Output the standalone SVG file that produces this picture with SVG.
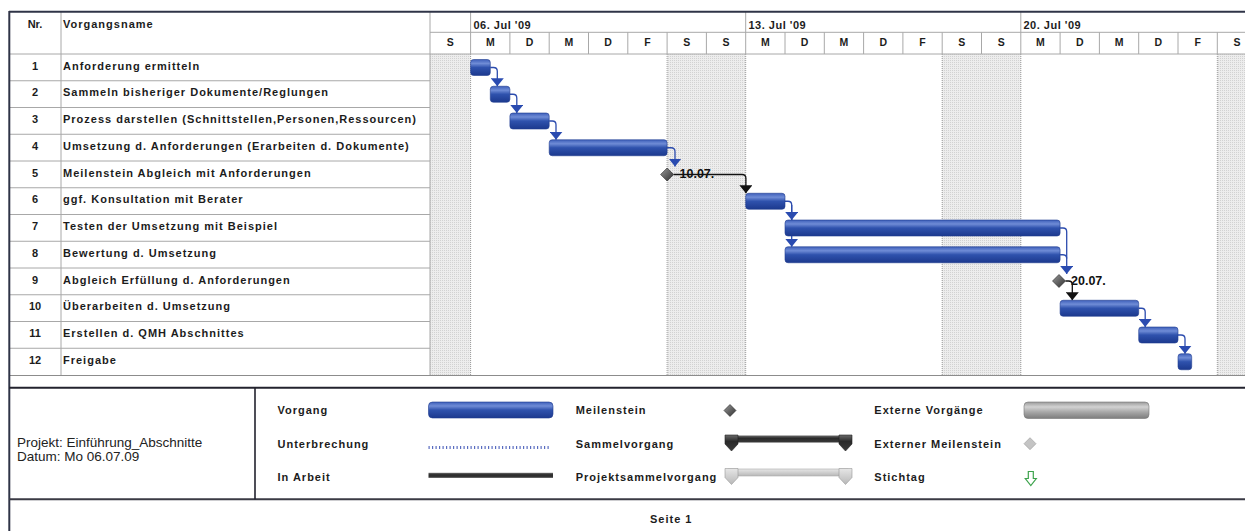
<svg xmlns="http://www.w3.org/2000/svg" width="1245" height="531" viewBox="0 0 1245 531">
<style>
.t{font-family:"Liberation Sans",Arial,sans-serif;font-size:11px;font-weight:bold;fill:#1c1c1c;letter-spacing:1px}
.n{font-family:"Liberation Sans",Arial,sans-serif;font-size:11px;font-weight:bold;fill:#1c1c1c;text-anchor:middle}
.d{font-family:"Liberation Sans",Arial,sans-serif;font-size:10.5px;font-weight:bold;fill:#1c1c1c;text-anchor:middle}
.w{font-family:"Liberation Sans",Arial,sans-serif;font-size:11px;font-weight:bold;fill:#1c1c1c;letter-spacing:0.5px}
.ml{font-family:"Liberation Sans",Arial,sans-serif;font-size:12.5px;font-weight:bold;fill:#111}
.p{font-family:"Liberation Sans",Arial,sans-serif;font-size:13.5px;fill:#222}
.g{stroke:#a8a8a8;stroke-width:1;fill:none}
.dot{stroke:#9a9a9a;stroke-width:1;stroke-dasharray:1 1;fill:none}
.bar{fill:url(#blue);stroke:#203c90;stroke-width:0.6}
.ms{fill:url(#dia);stroke:#222;stroke-width:0.6}
.lb{fill:none;stroke:#2c4cae;stroke-width:1.3}
.lk{fill:none;stroke:#111;stroke-width:1.3}
</style>
<defs>
<linearGradient id="blue" x1="0" y1="0" x2="0" y2="1">
<stop offset="0" stop-color="#3e5fba"/><stop offset="0.25" stop-color="#6f8cd6"/><stop offset="0.5" stop-color="#2f52ad"/><stop offset="1" stop-color="#1c398e"/>
</linearGradient>
<linearGradient id="dia" x1="0" y1="0" x2="1" y2="1">
<stop offset="0" stop-color="#9a9a9a"/><stop offset="1" stop-color="#2e2e2e"/>
</linearGradient>
<linearGradient id="dark" x1="0" y1="0" x2="0" y2="1">
<stop offset="0" stop-color="#6a6a6a"/><stop offset="0.4" stop-color="#2a2a2a"/><stop offset="1" stop-color="#3a3a3a"/>
</linearGradient>
<linearGradient id="light" x1="0" y1="0" x2="0" y2="1">
<stop offset="0" stop-color="#e6e6e6"/><stop offset="1" stop-color="#b8b8b8"/>
</linearGradient>
<linearGradient id="grey" x1="0" y1="0" x2="0" y2="1">
<stop offset="0" stop-color="#9a9a9a"/><stop offset="0.3" stop-color="#d2d2d2"/><stop offset="0.6" stop-color="#a8a8a8"/><stop offset="1" stop-color="#7c7c7c"/>
</linearGradient>
<pattern id="wk" width="2" height="2" patternUnits="userSpaceOnUse">
<rect width="2" height="2" fill="#ededed"/><rect width="1" height="1" fill="#d2d2d2"/>
</pattern>
<marker id="ab" markerUnits="userSpaceOnUse" markerWidth="8" markerHeight="13" viewBox="0 0 8 13" refX="8" refY="6.5" orient="auto">
<path d="M0,0 L8,6.5 L0,13 z" fill="#2a4bb0"/>
</marker>
<marker id="ak" markerUnits="userSpaceOnUse" markerWidth="8" markerHeight="13" viewBox="0 0 8 13" refX="8" refY="6.5" orient="auto">
<path d="M0,0 L8,6.5 L0,13 z" fill="#111"/>
</marker>
</defs>

<rect width="1245" height="531" fill="#fff"/>

<g id="weekends">
<rect x="430" y="54" width="40.6" height="321" fill="url(#wk)"/>
<rect x="667.1" y="54" width="78.6" height="321" fill="url(#wk)"/>
<rect x="942.2" y="54" width="78.6" height="321" fill="url(#wk)"/>
<rect x="1217.3" y="54" width="27.7" height="321" fill="url(#wk)"/>
<path class="dot" d="M470.6,54V375M667.1,54V375M745.7,54V375M942.2,54V375M1020.8,54V375M1217.3,54V375"/>
</g>

<g id="grid">
<path class="g" d="M61,11V375M430,11V375M9,54H1245M430,32.3H1245"/>
<path class="g" d="M9,80.75H430M9,107.5H430M9,134.25H430M9,161H430M9,187.75H430M9,214.5H430M9,241.25H430M9,268H430M9,294.75H430M9,321.5H430M9,348.25H430"/>
<path class="g" d="M470.6,11V54M745.7,11V54M1020.8,11V54M509.9,32.3V54M549.2,32.3V54M588.5,32.3V54M627.8,32.3V54M667.1,32.3V54M706.4,32.3V54M785,32.3V54M824.3,32.3V54M863.6,32.3V54M902.9,32.3V54M942.2,32.3V54M981.5,32.3V54M1060.1,32.3V54M1099.4,32.3V54M1138.7,32.3V54M1178,32.3V54M1217.3,32.3V54"/>
<path d="M9,375.5H1245" stroke="#8c8c8c" stroke-width="1.2"/>
<path d="M9,11.8H1245" stroke="#2f3447" stroke-width="2"/>
<path d="M9.3,11V531" stroke="#2f3447" stroke-width="2"/>
</g>

<g id="header">
<text class="n" x="35" y="28">Nr.</text>
<text class="t" x="63" y="28" letter-spacing="0.6">Vorgangsname</text>
<text class="w" x="473.5" y="28.5">06. Jul '09</text>
<text class="w" x="748.5" y="28.5">13. Jul '09</text>
<text class="w" x="1023.5" y="28.5">20. Jul '09</text>
<text class="d" x="450.3" y="45.5">S</text>
<text class="d" x="490.25" y="45.5">M</text>
<text class="d" x="529.55" y="45.5">D</text>
<text class="d" x="568.85" y="45.5">M</text>
<text class="d" x="608.15" y="45.5">D</text>
<text class="d" x="647.45" y="45.5">F</text>
<text class="d" x="686.75" y="45.5">S</text>
<text class="d" x="726.05" y="45.5">S</text>
<text class="d" x="765.35" y="45.5">M</text>
<text class="d" x="804.65" y="45.5">D</text>
<text class="d" x="843.95" y="45.5">M</text>
<text class="d" x="883.25" y="45.5">D</text>
<text class="d" x="922.55" y="45.5">F</text>
<text class="d" x="961.85" y="45.5">S</text>
<text class="d" x="1001.15" y="45.5">S</text>
<text class="d" x="1040.45" y="45.5">M</text>
<text class="d" x="1079.75" y="45.5">D</text>
<text class="d" x="1119.05" y="45.5">M</text>
<text class="d" x="1158.35" y="45.5">D</text>
<text class="d" x="1197.65" y="45.5">F</text>
<text class="d" x="1236.95" y="45.5">S</text>
</g>

<g id="connectors">
<path class="lb" d="M490.3,67.5H493.5Q497.3,67.5 497.3,71.3V86.25" marker-end="url(#ab)"/>
<path class="lb" d="M509.9,94.25H513Q516.8,94.25 516.8,98V113" marker-end="url(#ab)"/>
<path class="lb" d="M549.2,121H552.3Q556,121 556,124.8V139.75" marker-end="url(#ab)"/>
<path class="lb" d="M667.1,147.75H671Q675,147.75 675,151.7V166.5" marker-end="url(#ab)"/>
<path class="lk" d="M673.6,174.5H742Q745.9,174.5 745.9,178.4V193.25" marker-end="url(#ak)"/>
<path class="lb" d="M785,201.25H788Q791.7,201.25 791.7,205V220" marker-end="url(#ab)"/>
<path class="lb" d="M791.7,205V246.75" marker-end="url(#ab)"/>
<path class="lb" d="M1060.1,228H1063Q1066.7,228 1066.7,231.7V274" marker-end="url(#ab)"/>
<path class="lb" d="M1060.1,254.75H1063Q1066.7,254.75 1066.7,258.5"/>
<path class="lk" d="M1065.5,281H1068.5Q1072.3,281 1072.3,284.8V300.25" marker-end="url(#ak)"/>
<path class="lb" d="M1138.7,308.25H1141.5Q1145.2,308.25 1145.2,312V327" marker-end="url(#ab)"/>
<path class="lb" d="M1178,335H1181Q1185,335 1185,338.8V353.75" marker-end="url(#ab)"/>
</g>

<g id="task1"><text class="n" x="35" y="69.5">1</text><text class="t" x="63" y="69.5">Anforderung ermitteln</text><rect class="bar" x="470.6" y="59.5" width="19.7" height="16" rx="3"/></g>
<g id="task2"><text class="n" x="35" y="96.25">2</text><text class="t" x="63" y="96.25">Sammeln bisheriger Dokumente/Reglungen</text><rect class="bar" x="490.3" y="86.25" width="19.6" height="16" rx="3"/></g>
<g id="task3"><text class="n" x="35" y="123">3</text><text class="t" x="63" y="123">Prozess darstellen (Schnittstellen,Personen,Ressourcen)</text><rect class="bar" x="509.9" y="113" width="39.3" height="16" rx="3"/></g>
<g id="task4"><text class="n" x="35" y="149.75">4</text><text class="t" x="63" y="149.75">Umsetzung d. Anforderungen (Erarbeiten d. Dokumente)</text><rect class="bar" x="549.2" y="139.75" width="117.9" height="16" rx="3"/></g>
<g id="task5"><text class="n" x="35" y="176.5">5</text><text class="t" x="63" y="176.5">Meilenstein Abgleich mit Anforderungen</text><path class="ms" d="M667.1,168L673.6,174.5L667.1,181L660.6,174.5z"/><text class="ml" x="679.5" y="178">10.07.</text></g>
<g id="task6"><text class="n" x="35" y="203.25">6</text><text class="t" x="63" y="203.25">ggf. Konsultation mit Berater</text><rect class="bar" x="745.7" y="193.25" width="39.3" height="16" rx="3"/></g>
<g id="task7"><text class="n" x="35" y="230">7</text><text class="t" x="63" y="230">Testen der Umsetzung mit Beispiel</text><rect class="bar" x="785" y="220" width="275.1" height="16" rx="3"/></g>
<g id="task8"><text class="n" x="35" y="256.75">8</text><text class="t" x="63" y="256.75">Bewertung d. Umsetzung</text><rect class="bar" x="785" y="246.75" width="275.1" height="16" rx="3"/></g>
<g id="task9"><text class="n" x="35" y="283.5">9</text><text class="t" x="63" y="283.5">Abgleich Erfüllung d. Anforderungen</text><path class="ms" d="M1059,274.5L1065.5,281L1059,287.5L1052.5,281z"/><text class="ml" x="1071" y="284.5">20.07.</text></g>
<g id="task10"><text class="n" x="35" y="310.25">10</text><text class="t" x="63" y="310.25">Überarbeiten d. Umsetzung</text><rect class="bar" x="1060.1" y="300.25" width="78.6" height="16" rx="3"/></g>
<g id="task11"><text class="n" x="35" y="337">11</text><text class="t" x="63" y="337">Erstellen d. QMH Abschnittes</text><rect class="bar" x="1138.7" y="327" width="39.3" height="16" rx="3"/></g>
<g id="task12"><text class="n" x="35" y="363.75">12</text><text class="t" x="63" y="363.75">Freigabe</text><rect class="bar" x="1178" y="353.75" width="13.7" height="16" rx="3"/></g>

<g id="legend">
<path d="M9,387.8H1245" stroke="#22222e" stroke-width="2"/>
<path d="M9,499.3H1245" stroke="#3a3a44" stroke-width="2"/>
<path d="M255,387.8V499.3" stroke="#22222e" stroke-width="1.6"/>
<text class="p" x="17" y="446.5">Projekt: Einführung_Abschnitte</text>
<text class="p" x="17" y="460.5">Datum: Mo 06.07.09</text>

<text class="t" x="277.5" y="414">Vorgang</text>
<text class="t" x="277.5" y="447.5">Unterbrechung</text>
<text class="t" x="277.5" y="481">In Arbeit</text>
<rect class="bar" x="428.5" y="402" width="124.5" height="16" rx="4"/>
<path d="M428.5,447.6H551" stroke="#5a6dc0" stroke-width="3" stroke-dasharray="1.2 2.3"/>
<rect x="428.5" y="472.8" width="124.5" height="5" fill="url(#dark)"/>

<text class="t" x="575.7" y="414">Meilenstein</text>
<text class="t" x="575.7" y="447.5">Sammelvorgang</text>
<text class="t" x="575.7" y="481">Projektsammelvorgang</text>
<path class="ms" d="M730,404.5L736,410.5L730,416.5L724,410.5z"/>
<rect x="728" y="435.5" width="120" height="7" fill="url(#dark)"/>
<path d="M725,435H738V444L731.5,451L725,444z" fill="url(#dark)" stroke="#222" stroke-width="0.6"/>
<path d="M839,435H852V444L845.5,451L839,444z" fill="url(#dark)" stroke="#222" stroke-width="0.6"/>
<rect x="728" y="469" width="120" height="7" fill="url(#light)" stroke="#aaa" stroke-width="0.6"/>
<path d="M725,468.5H738V477.5L731.5,484.5L725,477.5z" fill="url(#light)" stroke="#999" stroke-width="0.6"/>
<path d="M839,468.5H852V477.5L845.5,484.5L839,477.5z" fill="url(#light)" stroke="#999" stroke-width="0.6"/>

<text class="t" x="874.3" y="414">Externe Vorgänge</text>
<text class="t" x="874.3" y="447.5">Externer Meilenstein</text>
<text class="t" x="874.3" y="481">Stichtag</text>
<rect x="1024" y="402" width="125" height="16.5" rx="4" fill="url(#grey)" stroke="#777" stroke-width="0.6"/>
<path d="M1030,437.7L1036,443.7L1030,449.7L1024,443.7z" fill="#c4c4c4" stroke="#999" stroke-width="0.6"/>
<path d="M1028.3,471.5H1033.3V478.5H1036.3L1030.8,485.5L1025.3,478.5H1028.3z" fill="#fff" stroke="#3da34c" stroke-width="1.2"/>

<text class="t" x="650" y="523">Seite 1</text>
</g>
</svg>
